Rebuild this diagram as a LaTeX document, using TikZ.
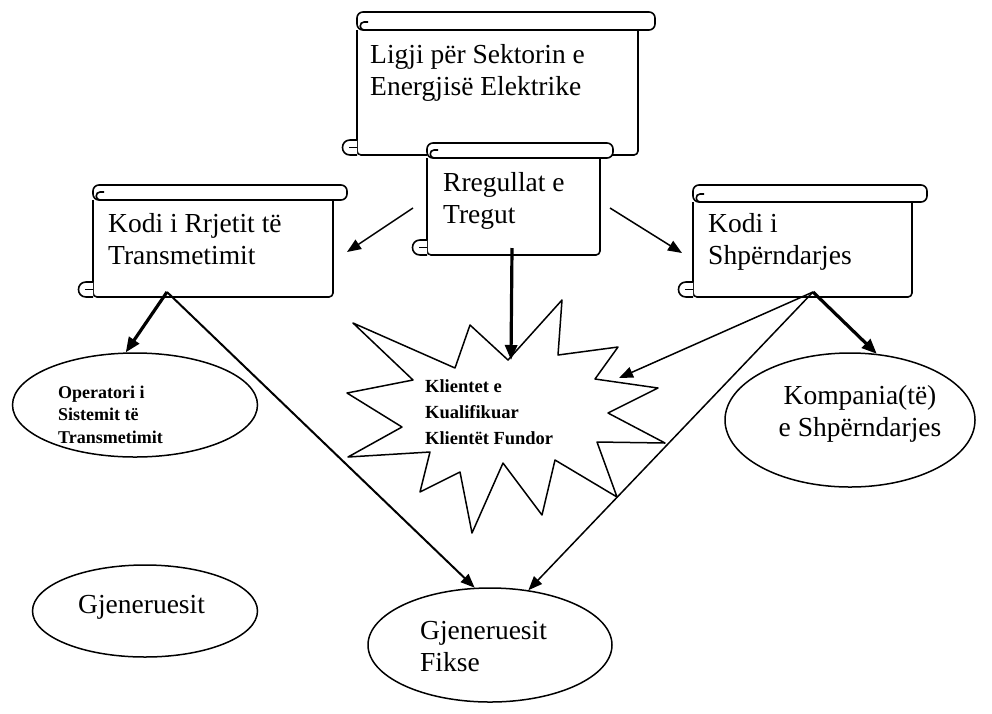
\documentclass[tikz,border=0pt]{standalone}
\usepackage{fontspec}
\setmainfont{Liberation Serif}
\usetikzlibrary{arrows.meta,shapes.geometric,calc}

\tikzset{
  outl/.style={line width=1.6pt, line join=round},
  bigtxt/.style={font=\fontsize{27.5}{32}\selectfont, inner sep=0pt, align=left},
  smalltxt/.style={font=\bfseries\fontsize{18}{22.5}\selectfont, inner sep=0pt, align=left},
  ell/.style={draw, line width=1.5pt, ellipse, inner sep=0pt, fill=white},
  thinarr/.style={line width=1.5pt, -{Triangle[length=14pt,width=11pt]}},
  thickarr/.style={line width=3.2pt, -{Triangle[length=15pt,width=12pt]}},
}

% #1 x0, #2 bar top, #3 bar right, #4 bar bottom, #5 body right, #6 body bottom
\newcommand{\myscroll}[6]{%
  \fill[white] (#1,#2+5) rectangle (#5,#6);
  \draw[outl, rounded corners=4] (#1,#4) -- (#1,#6) -- (#5,#6) -- (#5,#4);
  \filldraw[outl, fill=white, rounded corners=6] (#1,#2) rectangle (#3,#4);
  \draw[outl] (#1+13,#4) -- (#1+7,#4) .. controls (#1+2,#4) and (#1+2,#4-8) .. (#1+7,#4-8) -- (#1+11,#4-8);
  \filldraw[outl, fill=white] (#1,#6-15) -- (#1-7,#6-15) .. controls (#1-17,#6-15) and (#1-17,#6) .. (#1-7,#6) -- (#1,#6);
  \draw[outl] (#1,#6-7.5) -- (#1-8,#6-7.5);
}

\begin{document}
\begin{tikzpicture}[x=1pt,y=-1pt]
\useasboundingbox (0,0) rectangle (992,713);

% scrolls
\myscroll{357}{12}{655}{30}{638}{155}
\node[bigtxt, anchor=base west] (ligji) at (370,95) {Ligji për Sektorin e\\Energjisë Elektrike};

\myscroll{427}{143}{613}{158}{600}{255}
\node[bigtxt, anchor=base west] (rreg) at (443,223) {Rregullat e\\Tregut};

\myscroll{93}{185}{347}{200}{333}{297}
\node[bigtxt, anchor=base west] (krr) at (108,264) {Kodi i Rrjetit të\\Transmetimit};

\myscroll{693}{185}{927}{202}{912}{297}
\node[bigtxt, anchor=base west] (ksh) at (708,264) {Kodi i\\Shpërndarjes};

% star
\filldraw[outl, line width=1.5pt, fill=white]
  (353,323) -- (455,368) -- (470,325) -- (508,360) -- (562,300) -- (558,355)
  -- (618,347) -- (595,379) -- (658,388) -- (608,413) -- (665,443) -- (597,442)
  -- (617,497) -- (555,460) -- (542,515) -- (503,463) -- (472,533) -- (460,472)
  -- (420,492) -- (430,452) -- (348,457) -- (402,427) -- (347,393) -- (413,380) -- cycle;
\coordinate (star-top) at (511,360);
\coordinate (star-right) at (619,378);
\node[smalltxt, font=\bfseries\fontsize{18.5}{26}\selectfont, anchor=base west] (klient) at (425,444) {Klientet e\\Kualifikuar\\Klientët Fundor};

% ellipses
\node[ell, minimum width=245pt, minimum height=104pt] (op) at (135,405) {};
\node[smalltxt, anchor=base west] (optxt) at (58,443) {Operatori i\\Sistemit të\\Transmetimit};

\node[ell, minimum width=250pt, minimum height=134pt] (komp) at (850,420) {};
\node[bigtxt, align=center, anchor=base] (komptxt) at (860,436) {Kompania(të)\\e Shpërndarjes};

\node[ell, minimum width=225pt, minimum height=92pt] (gjen) at (145,611) {};
\node[bigtxt, anchor=base west] (gjentxt) at (78,613) {Gjeneruesit};

\node[ell, minimum width=244pt, minimum height=114pt] (fikse) at (490,645) {};
\node[bigtxt, anchor=base west] (fiksetxt) at (420,671) {Gjeneruesit\\Fikse};

% connector start points
\coordinate (rreg-l) at (413,208);
\coordinate (rreg-r) at (610,208);
\coordinate (rreg-b) at (512,248);
\coordinate (krr-b) at (167,292);
\coordinate (ksh-b) at (813,292);
\coordinate (krr-in) at (347,252);
\coordinate (ksh-in) at (682,253);

% connectors
\draw[thinarr] (rreg-l) -- (krr-in);
\draw[thinarr] (rreg-r) -- (ksh-in);
\draw[thickarr] (rreg-b) -- (star-top);
\draw[thickarr] (krr-b) -- (op.100);
\draw[thinarr, line width=2pt] (krr-b) -- (fikse.105);
\draw[thinarr] (ksh-b) -- (star-right);
\draw[thickarr] (ksh-b) -- (komp.68);
\draw[thinarr] (ksh-b) -- (fikse.55);
\end{tikzpicture}
\end{document}
